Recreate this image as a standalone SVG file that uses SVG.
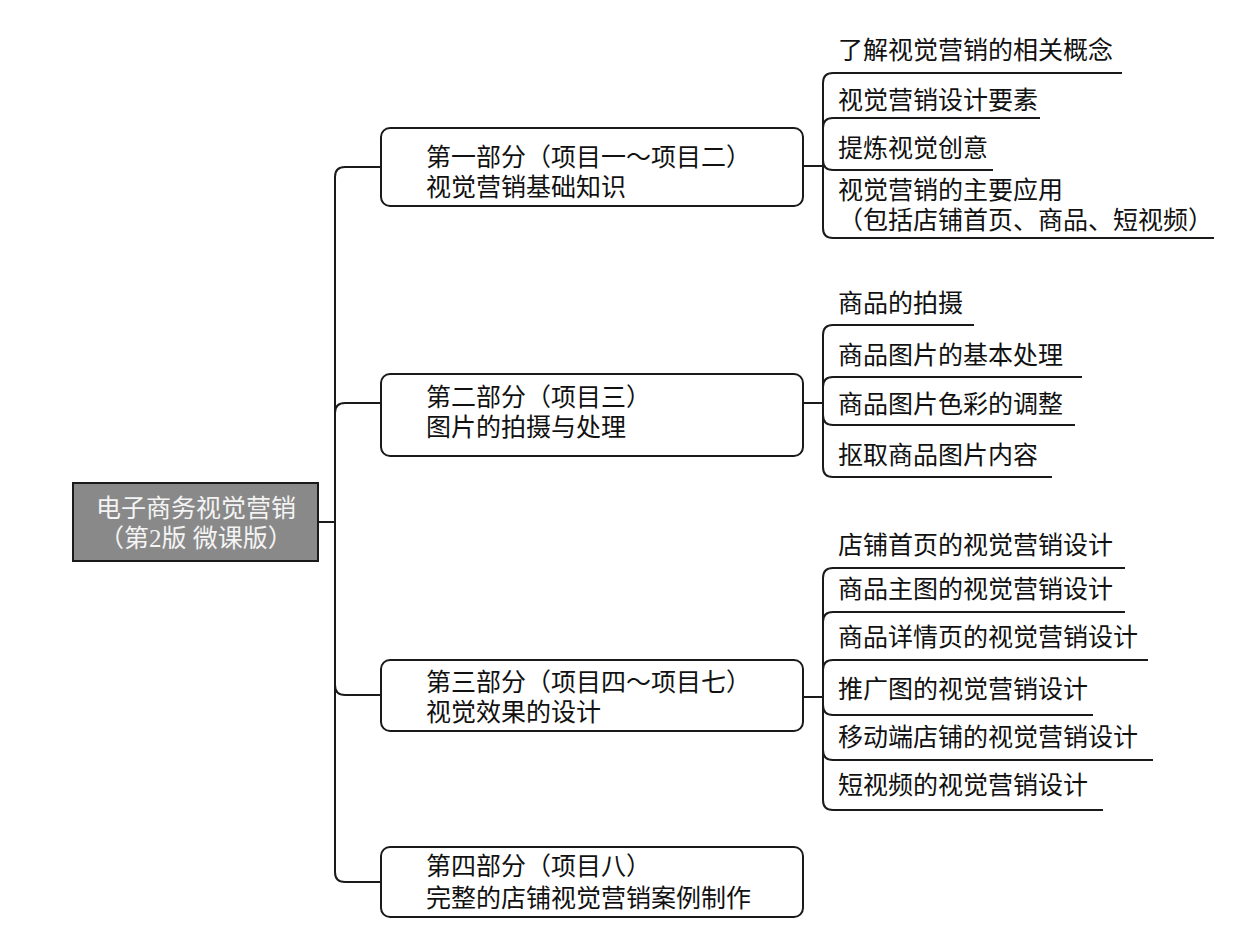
<svg xmlns="http://www.w3.org/2000/svg" width="1240" height="939" viewBox="0 0 1240 939">
<style>
.bg{fill:#ffffff}
.box{fill:#ffffff;stroke:#1a1a1a;stroke-width:2}
.root{fill:#898989;stroke:#1a1a1a;stroke-width:2}
.ln{fill:none;stroke:#1a1a1a;stroke-width:2}
text{font-family:"Liberation Serif","Noto Sans CJK SC",serif;font-size:25px;fill:#111111;font-feature-settings:"chws" 0,"halt" 0,"palt" 0;text-spacing-trim:space-all;font-kerning:none}
.rt{fill:#f4f4f4;text-anchor:middle}
</style>
<rect class="bg" x="0" y="0" width="1240" height="939"/>
<g id="connectors">
  <path class="ln" d="M318,522 H335"/>
  <path class="ln" d="M335,177 V872"/>
  <path class="ln" d="M335,177 Q335,167 345,167 H381"/>
  <path class="ln" d="M335,413 Q335,403 345,403 H381"/>
  <path class="ln" d="M335,685 Q335,695 345,695 H381"/>
  <path class="ln" d="M335,872 Q335,882 345,882 H381"/>
  <path class="ln" d="M803,166 H823"/>
  <path class="ln" d="M823,83 V228"/>
  <path class="ln" d="M823,83 Q823,73 833,73 H1122"/>
  <path class="ln" d="M823,128 Q823,118 833,118 H1040"/>
  <path class="ln" d="M823,160 Q823,170 833,170 H993"/>
  <path class="ln" d="M823,228 Q823,238 833,238 H1214"/>
  <path class="ln" d="M803,403 H823"/>
  <path class="ln" d="M823,335 V467"/>
  <path class="ln" d="M823,335 Q823,325 833,325 H974"/>
  <path class="ln" d="M823,387 Q823,377 833,377 H1082"/>
  <path class="ln" d="M823,415 Q823,425 833,425 H1075"/>
  <path class="ln" d="M823,467 Q823,477 833,477 H1052"/>
  <path class="ln" d="M803,697 H823"/>
  <path class="ln" d="M823,578 V800"/>
  <path class="ln" d="M823,578 Q823,568 833,568 H1125"/>
  <path class="ln" d="M823,622 Q823,612 833,612 H1125"/>
  <path class="ln" d="M823,670 Q823,660 833,660 H1148"/>
  <path class="ln" d="M823,705 Q823,715 833,715 H1093"/>
  <path class="ln" d="M823,750 Q823,760 833,760 H1153"/>
  <path class="ln" d="M823,800 Q823,810 833,810 H1103"/>
</g>
<g id="root">
  <rect class="root" x="73" y="483" width="245" height="78"/>
  <text class="rt" x="196" y="517">电子商务视觉营销</text>
  <text class="rt" x="196" y="547">（第2版 微课版）</text>
</g>
<g id="part1">
  <rect class="box" x="381" y="128" width="422" height="78" rx="9"/>
  <text x="426" y="166">第一部分（项目一～项目二）</text>
  <text x="426" y="196">视觉营销基础知识</text>
</g>
<g id="part2">
  <rect class="box" x="381" y="374" width="422" height="82" rx="9"/>
  <text x="426" y="406">第二部分（项目三）</text>
  <text x="426" y="436">图片的拍摄与处理</text>
</g>
<g id="part3">
  <rect class="box" x="381" y="660" width="422" height="71" rx="9"/>
  <text x="426" y="691">第三部分（项目四～项目七）</text>
  <text x="426" y="721">视觉效果的设计</text>
</g>
<g id="part4">
  <rect class="box" x="381" y="847" width="422" height="70" rx="9"/>
  <text x="426" y="875">第四部分（项目八）</text>
  <text x="426" y="907">完整的店铺视觉营销案例制作</text>
</g>
<g id="leaf1-1"><text x="838" y="59">了解视觉营销的相关概念</text></g>
<g id="leaf1-2"><text x="838" y="109">视觉营销设计要素</text></g>
<g id="leaf1-3"><text x="838" y="157">提炼视觉创意</text></g>
<g id="leaf1-4"><text x="838" y="199">视觉营销的主要应用</text><text x="838" y="229">（包括店铺首页、商品、短视频）</text></g>
<g id="leaf2-1"><text x="838" y="312">商品的拍摄</text></g>
<g id="leaf2-2"><text x="838" y="364">商品图片的基本处理</text></g>
<g id="leaf2-3"><text x="838" y="413">商品图片色彩的调整</text></g>
<g id="leaf2-4"><text x="838" y="464">抠取商品图片内容</text></g>
<g id="leaf3-1"><text x="838" y="554">店铺首页的视觉营销设计</text></g>
<g id="leaf3-2"><text x="838" y="598">商品主图的视觉营销设计</text></g>
<g id="leaf3-3"><text x="838" y="646">商品详情页的视觉营销设计</text></g>
<g id="leaf3-4"><text x="838" y="698">推广图的视觉营销设计</text></g>
<g id="leaf3-5"><text x="838" y="746">移动端店铺的视觉营销设计</text></g>
<g id="leaf3-6"><text x="838" y="794">短视频的视觉营销设计</text></g>
</svg>
